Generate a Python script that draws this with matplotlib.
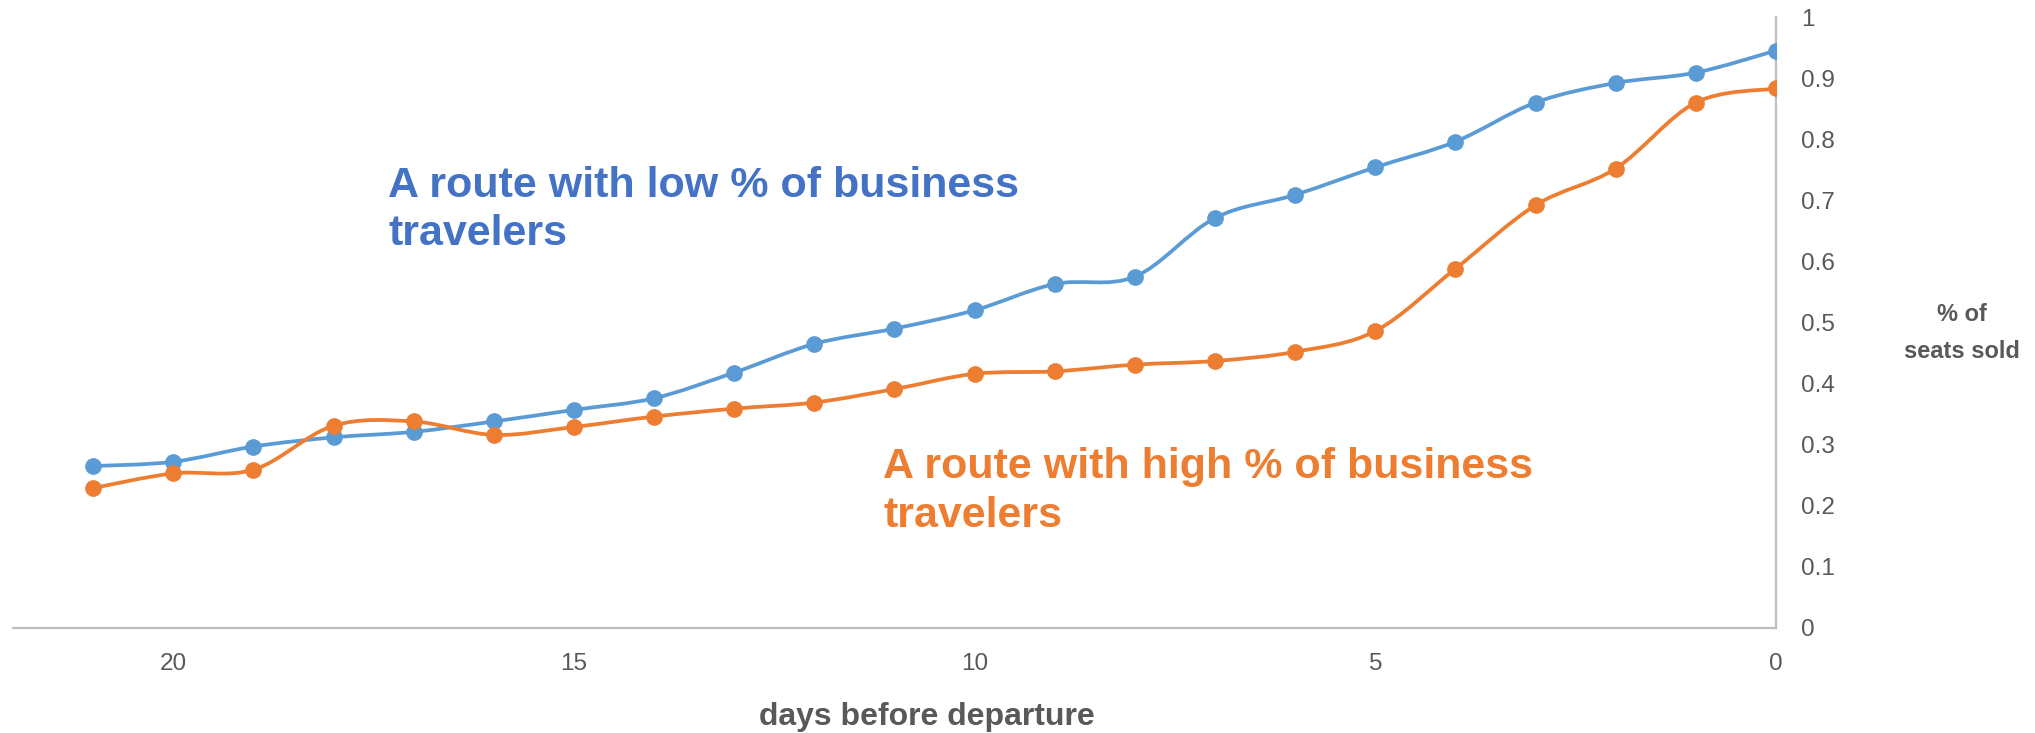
import numpy as np
import matplotlib
matplotlib.use("Agg")
import matplotlib.pyplot as plt
from matplotlib.path import Path
from matplotlib.patches import PathPatch

plt.rcParams['font.family'] = ['Liberation Sans', 'DejaVu Sans']

# Days before departure and share of seats sold for each route type
days = [21, 20, 19, 18, 17, 16, 15, 14, 13, 12, 11, 10, 9, 8, 7, 6, 5, 4, 3, 2, 1, 0]
low_business = [0.265, 0.272, 0.297, 0.312, 0.321, 0.338, 0.357, 0.376, 0.418, 0.465, 0.490,
                0.520, 0.563, 0.575, 0.671, 0.709, 0.754, 0.796, 0.860, 0.892, 0.909, 0.945]
high_business = [0.229, 0.253, 0.259, 0.331, 0.338, 0.316, 0.329, 0.346, 0.359, 0.369, 0.391,
                 0.416, 0.420, 0.431, 0.437, 0.452, 0.486, 0.588, 0.692, 0.752, 0.860, 0.883]

x_ticks = [20, 15, 10, 5, 0]
y_ticks = [0, 0.1, 0.2, 0.3, 0.4, 0.5, 0.6, 0.7, 0.8, 0.9, 1]
y_tick_labels = ['0', '0.1', '0.2', '0.3', '0.4', '0.5', '0.6', '0.7', '0.8', '0.9', '1']

BLUE = '#5B9BD5'
BLUE_TEXT = '#4472C4'
ORANGE = '#ED7D31'
GRAY = '#595959'
AXIS_GRAY = '#BFBFBF'


def smooth_path(xs, ys):
    """Cubic Bezier path through the points (Catmull-Rom style tangents)."""
    pts = np.column_stack([xs, ys]).astype(float)
    n = len(pts)
    verts = [pts[0]]
    codes = [Path.MOVETO]
    for i in range(n - 1):
        p0 = pts[i - 1] if i > 0 else pts[i]
        p1 = pts[i]
        p2 = pts[i + 1]
        p3 = pts[i + 2] if i + 2 < n else pts[i + 1]
        c1 = p1 + (p2 - p0) / 6.0
        c2 = p2 - (p3 - p1) / 6.0
        verts += [c1, c2, p2]
        codes += [Path.CURVE4] * 3
    return Path(verts, codes)


fig = plt.figure(figsize=(20.35, 7.33), dpi=100)
ax = fig.add_axes([0.0064, 0.1433, 0.8663, 0.8335])

for vals, color in [(low_business, BLUE), (high_business, ORANGE)]:
    ax.add_patch(PathPatch(smooth_path(days, vals), facecolor='none', edgecolor=color,
                           lw=2.7, capstyle='round', joinstyle='round', zorder=2))
    ax.plot(days, vals, linestyle='none', marker='o', markersize=11, color=color, zorder=3)

ax.set_xlim(22, 0)
ax.set_ylim(0, 1)

ax.set_xticks(x_ticks)
ax.set_xticklabels([str(t) for t in x_ticks])
ax.set_yticks(y_ticks)
ax.set_yticklabels(y_tick_labels)
ax.yaxis.tick_right()
ax.tick_params(axis='both', length=0, labelsize=17.5, labelcolor=GRAY)
ax.tick_params(axis='y', pad=18)
ax.tick_params(axis='x', pad=18)
for lab in ax.get_yticklabels():
    lab.set_horizontalalignment('left')

for side in ['left', 'top']:
    ax.spines[side].set_visible(False)
for side in ['right', 'bottom']:
    ax.spines[side].set_color(AXIS_GRAY)
    ax.spines[side].set_linewidth(1.6)

# Series annotations, one text per line so each baseline sits where it should
label_kw = dict(fontsize=31, fontweight='bold', ha='left', va='baseline')
ax.text(17.32, 0.705, 'A route with low % of business', color=BLUE_TEXT, **label_kw)
ax.text(17.32, 0.627, 'travelers', color=BLUE_TEXT, **label_kw)
ax.text(11.14, 0.246, 'A route with high % of business', color=ORANGE, **label_kw)
ax.text(11.14, 0.165, 'travelers', color=ORANGE, **label_kw)

fig.text(1962 / 2035, 1 - 333 / 733, '% of\nseats sold', color=GRAY, fontsize=17,
         fontweight='bold', ha='center', va='center', linespacing=1.75)
fig.text(927 / 2035, 1 - 717 / 733, 'days before departure', color=GRAY, fontsize=23,
         fontweight='bold', ha='center', va='center')

fig.savefig('out.png', dpi=100, facecolor='white')
